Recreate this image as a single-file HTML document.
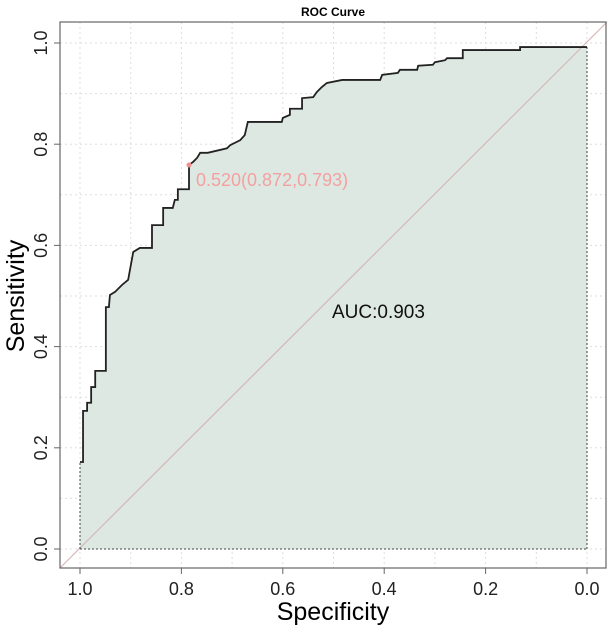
<!DOCTYPE html>
<html><head><meta charset="utf-8"><style>
html,body{margin:0;padding:0;background:#fff;}
svg{display:block;font-family:"Liberation Sans",Arial,sans-serif;}
</style></head><body>
<svg id="chart" width="613" height="632" viewBox="0 0 613 632">
<text x="333" y="16" font-size="12" font-weight="bold" text-anchor="middle">ROC Curve</text>
<g id="grid"></g><g id="marks"></g><g id="axes"></g>
<rect x="60" y="22" width="546" height="546" fill="none" stroke="#666" stroke-width="1.2"/>
<text x="333" y="620" font-size="25" text-anchor="middle">Specificity</text>
<text x="0" y="0" font-size="25" text-anchor="middle" transform="translate(24,296) rotate(-90)">Sensitivity</text>
</svg>
<script>
const specificity=[1.000,1.000,0.994,0.994,0.986,0.986,0.978,0.978,0.970,0.970,0.949,0.949,0.943,0.941,0.931,0.917,0.905,0.895,0.882,0.858,0.858,0.836,0.836,0.817,0.813,0.807,0.807,0.785,0.785,0.777,0.769,0.763,0.748,0.710,0.704,0.684,0.675,0.669,0.659,0.602,0.600,0.586,0.586,0.562,0.562,0.540,0.533,0.523,0.513,0.483,0.408,0.404,0.373,0.369,0.335,0.333,0.304,0.300,0.280,0.276,0.245,0.245,0.132,0.132,0.000];
const sensitivity=[0.000,0.172,0.172,0.273,0.273,0.289,0.289,0.320,0.320,0.352,0.352,0.478,0.478,0.502,0.508,0.522,0.532,0.587,0.595,0.595,0.640,0.640,0.674,0.674,0.690,0.690,0.711,0.711,0.759,0.765,0.773,0.783,0.783,0.792,0.798,0.808,0.818,0.844,0.844,0.844,0.852,0.858,0.870,0.870,0.891,0.893,0.903,0.913,0.921,0.927,0.927,0.937,0.941,0.947,0.947,0.955,0.957,0.962,0.966,0.970,0.970,0.986,0.986,0.992,0.992];
const bestPoint=[0.785,0.759];
const bestLabel="0.520(0.872,0.793)";
const aucLabel="AUC:0.903";
const xTicks=[1.0,0.8,0.6,0.4,0.2,0.0];
const yTicks=[0.0,0.2,0.4,0.6,0.8,1.0];
const NS="http://www.w3.org/2000/svg";
const xs=v=>80+(1-v)*507, ys=v=>549-v*506;
function mk(tag,attrs,parent){const e=document.createElementNS(NS,tag);for(const k in attrs)e.setAttribute(k,attrs[k]);parent.appendChild(e);return e;}
const grid=document.getElementById('grid'),marks=document.getElementById('marks'),axes=document.getElementById('axes');
for(let i=0;i<=10;i++){const v=i/10;
 let g=mk('line',{x1:xs(v),x2:xs(v),y1:22,y2:568,stroke:'#ddd','stroke-dasharray':'2,3'},grid);
 
 
 g=mk('line',{x1:60,x2:606,y1:ys(v),y2:ys(v),stroke:'#ddd','stroke-dasharray':'2,3'},grid);
 
 }
let pts=specificity.map((s,i)=>xs(s)+','+ys(sensitivity[i]));
let area=mk('polygon',{points:pts.join(' ')+' '+xs(0)+','+ys(0),fill:'#dde8e2'},marks);


let diag=mk('line',{x1:xs(1+20/507),y1:ys(-19/506),x2:xs(-20/507),y2:ys(1+21/506),stroke:'#d6b7b7','stroke-width':1.2},marks);


let d1=mk('line',{x1:xs(1),y1:ys(0),x2:xs(0),y2:ys(0),stroke:'#444','stroke-dasharray':'2,2'},marks);


let d2=mk('line',{x1:xs(0),y1:ys(0),x2:xs(0),y2:ys(sensitivity[sensitivity.length-1]),stroke:'#444','stroke-dasharray':'2,2'},marks);


let d3=mk('line',{x1:xs(1),y1:ys(0),x2:xs(1),y2:ys(sensitivity[1]),stroke:'#444','stroke-dasharray':'2,2'},marks);


let curve=mk('polyline',{points:pts.slice(1).join(' '),fill:'none',stroke:'#222','stroke-width':1.8},marks);


let bp=mk('circle',{cx:xs(bestPoint[0]),cy:ys(bestPoint[1]),r:2.5,fill:'#f08f8f'},marks);


let bl=mk('text',{x:xs(bestPoint[0])+7,y:ys(bestPoint[1])+21,'font-size':18,fill:'#f4a0a0'},marks);
bl.textContent=bestLabel;


let al=mk('text',{x:332,y:318,'font-size':19,fill:'#111'},marks);
al.textContent=aucLabel;


xTicks.forEach(v=>{
 let t=mk('line',{x1:xs(v),x2:xs(v),y1:568,y2:574,stroke:'#666'},axes);
 
 
 let l=mk('text',{x:xs(v),y:595,'font-size':18,'text-anchor':'middle',fill:'#222'},axes);
 l.textContent=v.toFixed(1);
 
 });
yTicks.forEach(v=>{
 let t=mk('line',{x1:54,x2:60,y1:ys(v),y2:ys(v),stroke:'#666'},axes);
 
 
 let l=mk('text',{x:0,y:0,'font-size':18,'text-anchor':'middle',fill:'#222',transform:'translate(47,'+ys(v)+') rotate(-90)'},axes);
 l.textContent=v.toFixed(1);
 
 });
</script>
</body></html>
